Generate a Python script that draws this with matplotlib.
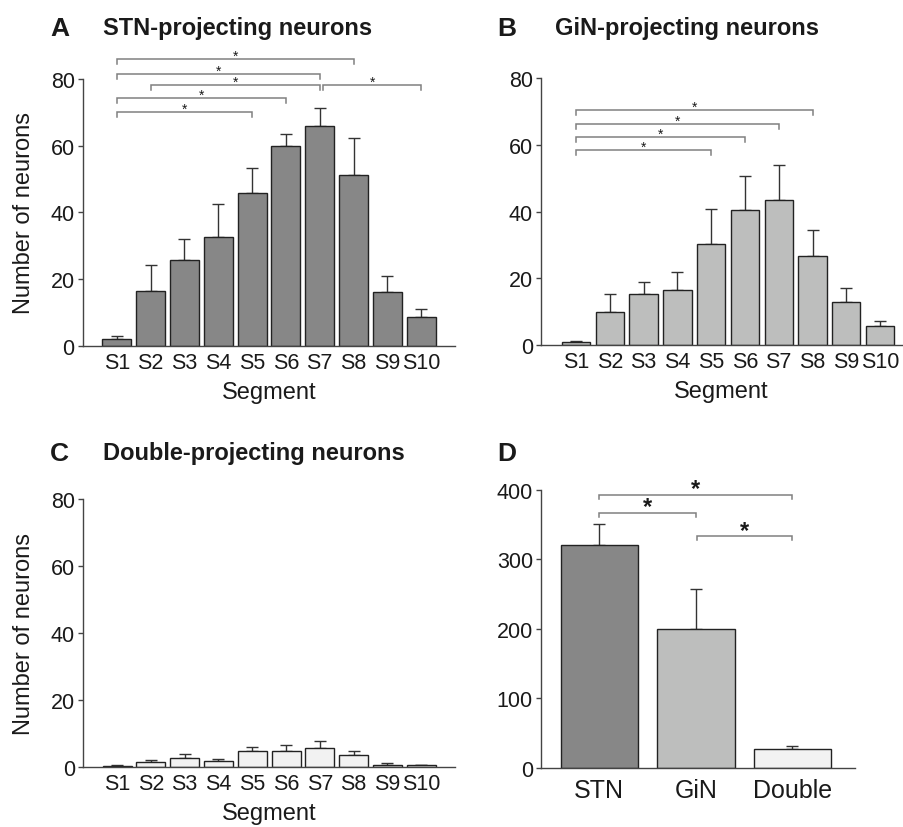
import matplotlib
matplotlib.use("Agg")
import matplotlib.pyplot as plt
import numpy as np

plt.rcParams['font.family'] = ['Liberation Sans', 'DejaVu Sans']

segments = ['S1', 'S2', 'S3', 'S4', 'S5', 'S6', 'S7', 'S8', 'S9', 'S10']
stn_mean = [2.0, 16.5, 25.6, 32.7, 45.8, 60.0, 65.7, 51.3, 16.2, 8.7]
stn_sem = [1.1, 7.6, 6.4, 9.9, 7.6, 3.3, 5.6, 10.9, 4.8, 2.3]
gin_mean = [0.9, 10.1, 15.3, 16.7, 30.4, 40.6, 43.5, 26.8, 13.1, 5.9]
gin_sem = [0.5, 5.4, 3.6, 5.3, 10.4, 10.2, 10.4, 7.6, 4.1, 1.3]
dbl_mean = [0.3, 1.7, 2.8, 1.8, 4.8, 5.0, 5.9, 3.7, 0.7, 0.6]
dbl_sem = [0.3, 0.6, 1.1, 0.7, 1.2, 1.6, 1.9, 1.3, 0.5, 0.2]
groups = ['STN', 'GiN', 'Double']
total_mean = [321, 200, 27]
total_sem = [30, 57, 4.5]

# significance brackets: (from index, to index, height)
sig_a = [(0, 7, 85.8), (0, 6, 81.5), (1, 6, 78.1), (6.1, 9, 78.1), (0, 5, 74.1), (0, 4, 69.9)]
sig_b = [(0, 7, 70.4), (0, 6, 66.2), (0, 5, 62.4), (0, 4, 58.5)]
sig_d = [(0, 2, 393), (0, 1, 367), (1.01, 2, 333)]

C_STN = '#878787'
C_GIN = '#bdbebd'
C_DBL = '#f2f2f2'
EDGE = '#222222'
SPINE = '#444444'
BRK = '#808080'
TXT = '#1a1a1a'

fig = plt.figure(figsize=(9.04, 8.28), dpi=100)
W, H = 904.0, 828.0


def make_axes(l, r, b, t):
    return fig.add_axes([l / W, 1 - b / H, (r - l) / W, (b - t) / H])


def style(ax, ymax, yticks, xlabels, xfs, ylabel=None, xlabel=None):
    ax.set_ylim(0, ymax)
    ax.set_yticks(yticks)
    ax.spines['top'].set_visible(False)
    ax.spines['right'].set_visible(False)
    for s in ('left', 'bottom'):
        ax.spines[s].set_color(SPINE)
        ax.spines[s].set_linewidth(1.0)
    ax.tick_params(axis='y', length=3.5, width=1, color=SPINE, pad=2.5,
                   labelsize=15.5, labelcolor=TXT)
    ax.tick_params(axis='x', length=0, pad=4, labelsize=xfs, labelcolor=TXT)
    ax.set_xticks(np.arange(len(xlabels)))
    ax.set_xticklabels(xlabels)
    if ylabel:
        ax.set_ylabel(ylabel, fontsize=17, color=TXT, labelpad=11.5)
    if xlabel:
        ax.set_xlabel(xlabel, fontsize=17, color=TXT, labelpad=6)


def bars(ax, means, sems, color, width):
    x = np.arange(len(means))
    ax.bar(x, means, width=width, color=color, edgecolor=EDGE, linewidth=1.0, zorder=2)
    ax.errorbar(x, means, yerr=[np.zeros(len(sems)), sems], fmt='none',
                ecolor='#333333', elinewidth=1.0, capsize=4, capthick=1.0, zorder=1)


def brackets(ax, sigs, tick, fs, bold=False):
    for i, j, y in sigs:
        ax.plot([i, i, j, j], [y - tick, y, y, y - tick], color=BRK, lw=1.1,
                clip_on=False, solid_joinstyle='miter')
        ax.annotate('*', xy=((i + j) / 2, y), xytext=(0, -0.5), textcoords='offset points',
                    ha='center', va='baseline', fontsize=fs, color=TXT,
                    fontweight='bold' if bold else 'normal', annotation_clip=False)


# Panel A
axA = make_axes(83, 455, 347, 79.7)
bars(axA, stn_mean, stn_sem, C_STN, 0.86)
axA.set_xlim(-1, 10)
style(axA, 80, [0, 20, 40, 60, 80], segments, 15.5, 'Number of neurons', 'Segment')
brackets(axA, sig_a, 1.5, 10)

# Panel B
axB = make_axes(541.3, 902, 346.3, 79)
bars(axB, gin_mean, gin_sem, C_GIN, 0.84)
axB.set_xlim(-1.03, 9.65)
style(axB, 80, [0, 20, 40, 60, 80], segments, 15.5, None, 'Segment')
brackets(axB, sig_b, 1.6, 10)

# Panel C
axC = make_axes(83.3, 455, 768.3, 500.3)
bars(axC, dbl_mean, dbl_sem, C_DBL, 0.86)
axC.set_xlim(-1, 10)
style(axC, 80, [0, 20, 40, 60, 80], segments, 15.5, 'Number of neurons', 'Segment')

# Panel D
axD = make_axes(541.3, 855.3, 769, 490.7)
bars(axD, total_mean, total_sem, [C_STN, C_GIN, C_DBL], 0.8)
axD.set_xlim(-0.6, 2.65)
style(axD, 400, [0, 100, 200, 300, 400], groups, 18)
axD.tick_params(axis='x', pad=7)
brackets(axD, sig_d, 6, 17, bold=True)

# Panel letters and titles
fig.text(50 / W, 1 - 36 / H, 'A', fontsize=19, fontweight='bold', color=TXT, va='baseline')
fig.text(103 / W, 1 - 35 / H, 'STN-projecting neurons', fontsize=17, fontweight='bold', color=TXT, va='baseline')
fig.text(497 / W, 1 - 36 / H, 'B', fontsize=19, fontweight='bold', color=TXT, va='baseline')
fig.text(555 / W, 1 - 35 / H, 'GiN-projecting neurons', fontsize=17, fontweight='bold', color=TXT, va='baseline')
fig.text(50 / W, 1 - 460.7 / H, 'C', fontsize=19, fontweight='bold', color=TXT, va='baseline')
fig.text(103 / W, 1 - 460 / H, 'Double-projecting neurons', fontsize=17, fontweight='bold', color=TXT, va='baseline')
fig.text(497 / W, 1 - 460.7 / H, 'D', fontsize=19, fontweight='bold', color=TXT, va='baseline')

fig.savefig('out.png', dpi=100, facecolor='white')
